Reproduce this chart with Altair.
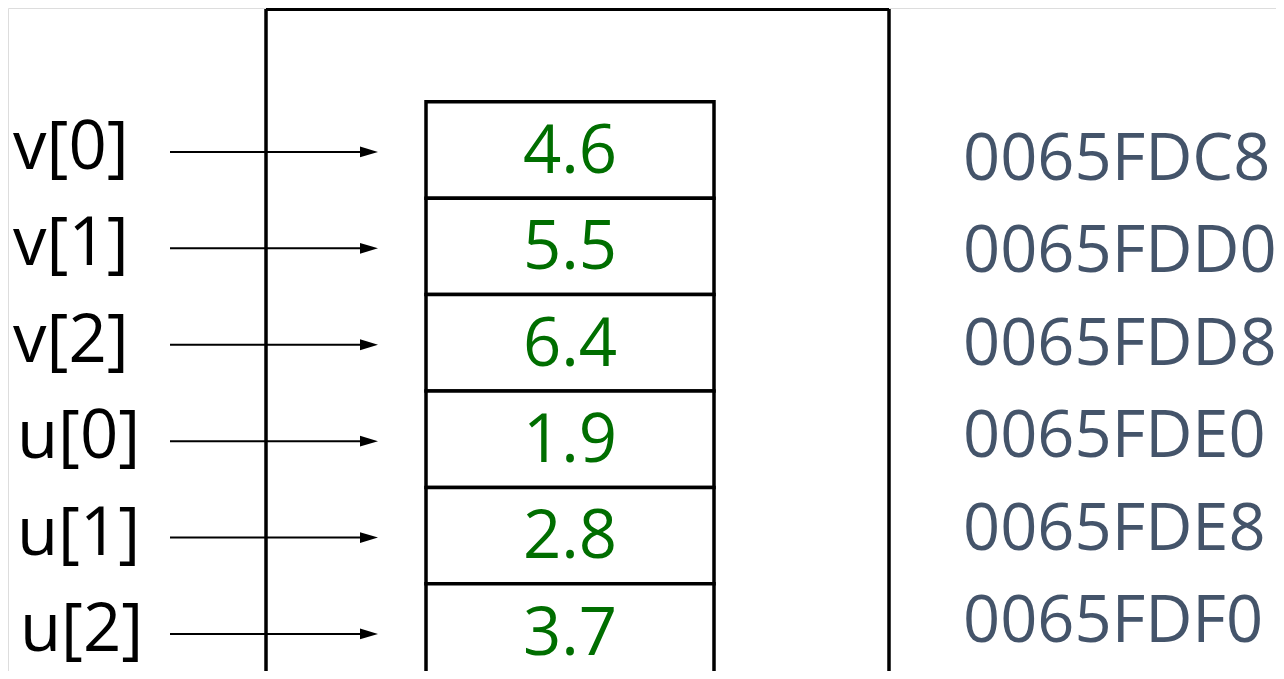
import altair as alt
import pandas as pd

# ---- data ----
names = ["v[0]", "v[1]", "v[2]", "u[0]", "u[1]", "u[2]"]
values = ["4.6", "5.5", "6.4", "1.9", "2.8", "3.7"]
addresses = ["0065FDC8", "0065FDD0", "0065FDD8", "0065FDE0", "0065FDE8", "0065FDF0"]

rows = list(range(len(names)))

# ---- layout (pixel-like x units, row-index y units) ----
W, H = 1268, 663
ROW_PX = 96.4
ROW0_PX = 150
y_top = (8 - ROW0_PX) / ROW_PX
y_bot = (8 + H - ROW0_PX) / ROW_PX

xs = alt.Scale(domain=[8, 8 + W], range=[0, W])
ys = alt.Scale(domain=[y_top, y_bot], range=[0, H])

def X(f, **k):
    return alt.X(f, type="quantitative", scale=xs, axis=None, **k)

def Y(f, **k):
    return alt.Y(f, type="quantitative", scale=ys, axis=None, **k)

FONT = "Open Sans"

cells = pd.DataFrame({
    "row": rows,
    "y0": [r - 0.5 for r in rows],
    "y1": [r + 0.5 for r in rows],
    "x0": 426, "x1": 714,
    "value": values,
    "name": names,
    "addr": addresses,
    "vx": 570,
    "ax0": 170, "ax1": 366, "hx": 369,
})
cells["vy"] = cells["row"] + 0.03
cells["ny"] = cells["row"] - 0.01
cells["ay"] = cells["row"] + 0.1 - cells["row"] * 0.04
cells["arry"] = cells["row"] + 0.02
cells["lx"] = [13, 13, 13, 17, 17, 20]

outer_v = pd.DataFrame({"x": [266, 889], "y0": [y_top + 0.01, y_top + 0.01], "y1": [y_bot + 0.2, y_bot + 0.2]})
outer_h = pd.DataFrame({"x0": [266], "x1": [889], "y": [y_top + 0.012]})

outer_vert = alt.Chart(outer_v).mark_rule(color="black", strokeWidth=3.5).encode(
    x=X("x"), y=Y("y0"), y2="y1")
outer_top = alt.Chart(outer_h).mark_rule(color="black", strokeWidth=3.5).encode(
    x=X("x0"), x2="x1", y=Y("y"))

boxes = alt.Chart(cells).mark_rect(fill="white", stroke="black", strokeWidth=3.5).encode(
    x=X("x0"), x2="x1", y=Y("y0"), y2="y1")

vals = alt.Chart(cells).mark_text(font=FONT, fontSize=67, color="#006E00",
                                  baseline="middle", align="center").encode(
    x=X("vx"), y=Y("vy"), text="value")

labels = alt.Chart(cells).mark_text(font=FONT, fontSize=67, color="black",
                                    baseline="middle", align="left").encode(
    x=X("lx"), y=Y("ny"), text="name")

addr = alt.Chart(cells).mark_text(font=FONT, fontSize=65, color="#44546A",
                                  baseline="middle", align="left").encode(
    x=alt.value(963 - 8), y=Y("ay"), text="addr")

shafts = alt.Chart(cells).mark_rule(color="black", strokeWidth=2).encode(
    x=X("ax0"), x2="ax1", y=Y("arry"))

heads = alt.Chart(cells).mark_point(shape="M-1,-0.6L1,0L-1,0.6Z", size=324, filled=True,
                                    color="black", opacity=1, strokeWidth=0).encode(
    x=X("hx"), y=Y("arry"))

chart = alt.layer(outer_vert, outer_top, boxes, vals, shafts, heads, labels, addr).properties(
    width=W, height=H, padding=0, autosize=alt.AutoSizeParams(type="none")
).configure_view(stroke=None).configure(background="white")

chart.save("out.html", embed_options={"renderer": "svg", "actions": False})
